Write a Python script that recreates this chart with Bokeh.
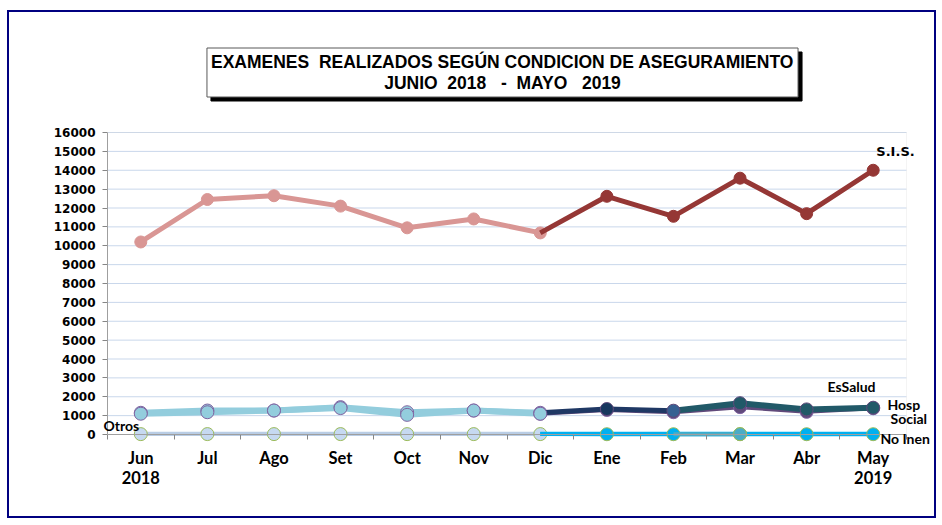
from bokeh.plotting import figure
from bokeh.models import Range1d, FixedTicker, Label, LinearAxis, BoxAnnotation
from bokeh.embed import file_html
from bokeh.resources import INLINE
import numpy as np

# ---------------- data ----------------
months = ["Jun", "Jul", "Ago", "Set", "Oct", "Nov", "Dic", "Ene", "Feb", "Mar", "Abr", "May"]
month_labels = ["Jun\n2018", "Jul", "Ago", "Set", "Oct", "Nov", "Dic", "Ene", "Feb", "Mar", "Abr", "May\n2019"]
sis = [10200, 12450, 12650, 12100, 10950, 11420, 10680, 12620, 11560, 13580, 11700, 14000]
essalud = [1150, 1270, 1270, 1450, 1180, 1270, 1150, 1350, 1260, 1660, 1330, 1420]
hosp_social = [1100, 1180, 1270, 1400, 1040, 1270, 1100, 1300, 1180, 1450, 1200, 1390]
otros = [40, 42, 40, 41, 40, 42, 40, 35, 36, 38, 35, 36]
no_inen = [20, 22, 21, 22, 20, 21, 22, 15, 16, 18, 15, 16]
y_ticks = list(range(0, 16001, 1000))
y_max = 16000
NB = "\u00a0"
title_text = ("EXAMENES" + NB * 2 + "REALIZADOS SEGÚN CONDICION DE ASEGURAMIENTO\n"
              "JUNIO" + NB * 2 + "2018" + NB * 3 + "-" + NB * 2 + "MAYO" + NB * 3 + "2019")

n = len(months)
xc = np.arange(n) + 0.5          # category centres
xb = list(np.arange(n + 1).astype(float))  # category boundaries
split = months.index("Dic")

# ---------------- geometry (page pixels) ----------------
PX0, PY0, PX1, PY1 = 7, 10, 936, 518     # canvas on the page
FL, FR, FT, FB = 107, 906, 132, 434      # plot area on the page
W, H = PX1 - PX0, PY1 - PY0
ux = (FR - FL) / n
uy = (FB - FT) / y_max


def dx(px):
    return (px - FL) / ux


def dy(py):
    return (FB - py) / uy


p = figure(width=W, height=H, output_backend="svg", toolbar_location=None,
           x_range=Range1d(dx(PX0), dx(PX1)), y_range=Range1d(dy(PY1), dy(PY0)),
           x_axis_location=None, y_axis_location=None,
           min_border=0, min_border_left=0, min_border_right=0,
           min_border_top=0, min_border_bottom=0,
           background_fill_color="white", border_fill_color="white")
p.styles = {"margin-left": f"{PX0}px", "margin-top": f"{PY0}px"}
p.outline_line_color = "#000080"
p.outline_line_width = 3
p.grid.visible = False

# gridlines and plot-area border
p.segment(x0=[0] * len(y_ticks[1:]), x1=[n] * len(y_ticks[1:]), y0=y_ticks[1:], y1=y_ticks[1:],
          line_color="#C9D7EB", line_width=1)
p.add_layout(BoxAnnotation(left=0, right=n, bottom=0, top=y_max, fill_color=None,
                           line_color="#D9D9D9", line_width=1))

# axes (fixed at the plot-area edges)
yax = LinearAxis(fixed_location=0, bounds=(0, y_max), ticker=FixedTicker(ticks=y_ticks))
yax.axis_line_color = "#868686"
yax.major_tick_line_color = "#868686"
yax.major_tick_out = 5
yax.major_tick_in = 0
yax.minor_tick_line_color = None
yax.major_label_text_font = "DejaVu Sans"
yax.major_label_text_font_style = "bold"
yax.major_label_text_font_size = "12px"
yax.major_label_text_color = "black"
yax.major_label_standoff = 7
p.add_layout(yax, "left")

xax = LinearAxis(fixed_location=0, bounds=(0, n), ticker=FixedTicker(ticks=list(xc), minor_ticks=xb))
xax.major_label_overrides = {float(c): lab for c, lab in zip(xc, month_labels)}
xax.axis_line_color = "#868686"
xax.major_tick_line_color = None
xax.minor_tick_line_color = "#868686"
xax.minor_tick_out = 5
xax.minor_tick_in = 0
xax.major_label_text_font = "Lato"
xax.major_label_text_font_style = "bold"
xax.major_label_text_font_size = "16.5px"
xax.major_label_text_line_height = 1.0
xax.major_label_text_color = "black"
xax.major_label_standoff = 7
p.add_layout(xax, "below")


def seg(x, y, line_color, width, fill, edge, marker_idx, size=12):
    p.line(x, y, line_color=line_color, line_width=width, line_join="round")
    if marker_idx is not None:
        mx = [x[i] for i in marker_idx]
        my = [y[i] for i in marker_idx]
        p.scatter(mx, my, size=size, fill_color=fill, line_color=edge, line_width=1)


a, b = slice(0, split + 1), slice(split, n)
xa, xbh = list(xc[a]), list(xc[b])

# S.I.S.
seg(xa, sis[a], "#D99694", 5, "#D99694", "#D99694", range(len(xa)))
seg(xbh, sis[b], "#953735", 5, "#953735", "#953735", range(1, len(xbh)))

# Otros / No Inen (near zero)
seg(xa, otros[a], "#B9CDE5", 4, "#C6D9F1", "#4BACC6", None)
seg(xa, no_inen[a], "#B9CDE5", 4, "#C6D9F1", "#9BBB59", range(len(xa)), size=13)
seg(xbh, otros[b], "#00B0F0", 4, "#00B0F0", "#00B0F0", None)
seg(xbh, no_inen[b], "#00B0F0", 4, "#00B0F0", "#9BBB59", range(1, len(xbh)), size=13)
i_feb, i_mar = months.index("Feb"), months.index("Mar")
p.line(list(xc[i_feb:i_mar + 1]), no_inen[i_feb:i_mar + 1], line_color="#4BACC6", line_width=4)
p.scatter([xc[i_mar]], [no_inen[i_mar]], size=13, fill_color="#4BACC6", line_color="#9BBB59")

# EsSalud / Hosp Social first half (light blue)
p.line(xa, essalud[a], line_color="#93CDDD", line_width=6, line_join="round")
p.line(xa, hosp_social[a], line_color="#93CDDD", line_width=6, line_join="round")
p.scatter(xa, essalud[a], size=13, fill_color="#93CDDD", line_color="#8064A2")
p.scatter(xa, hosp_social[a], size=13, fill_color="#93CDDD", line_color="#8064A2")

# second half: Hosp Social purple underneath
p.line(xbh, hosp_social[b], line_color="#604A7B", line_width=4, line_join="round")
p.scatter(xbh[1:], hosp_social[split + 1:], size=13, fill_color="#604A7B", line_color="#8064A2")
# EsSalud dark navy then teal
p.line(list(xc[split:i_feb + 1]), essalud[split:i_feb + 1], line_color="#1F3864", line_width=5)
p.line(list(xc[i_feb:]), essalud[i_feb:], line_color="#215968", line_width=6, line_join="round")
mcols = {"Ene": "#17375E", "Feb": "#366092", "Mar": "#215968", "Abr": "#215968", "May": "#215968"}
for m, c in mcols.items():
    i = months.index(m)
    p.scatter([xc[i]], [essalud[i]], size=13, fill_color=c, line_color="#604A7B")
p.scatter([xc[split]], [hosp_social[split]], size=13, fill_color="#93CDDD", line_color="#8064A2")


# ---------------- labels ----------------
def lab(text, px, py, size, font="Lato", align="left", color="black"):
    p.add_layout(Label(x=dx(px), y=dy(py), text=text, text_font=font, text_font_style="bold",
                       text_font_size=size, text_align=align, text_baseline="middle",
                       text_color=color))


lab("S.I.S.", 895, 151, "13px", font="DejaVu Sans", align="center")
lab("EsSalud", 851, 386, "14px", align="center")
lab("Hosp", 887, 404, "14px")
lab("Social", 890, 418, "14px")
lab("No Inen", 880, 438, "14px")
lab("Otros", 103, 425, "14px")

# title box with shadow
for off, bg, tc, bc in [(4, "black", "black", "black"), (0, "white", "black", "#595959")]:
    p.add_layout(Label(x=dx(502 + off), y=dy(72 + off), text=title_text,
                       text_font="Liberation Sans", text_font_style="bold",
                       text_font_size="17.5px", text_align="center", text_baseline="middle",
                       text_color=tc, background_fill_color=bg, border_line_color=bc,
                       border_line_width=1, padding=4, text_line_height=1.05))

open("out.html", "w").write(file_html(p, INLINE))
